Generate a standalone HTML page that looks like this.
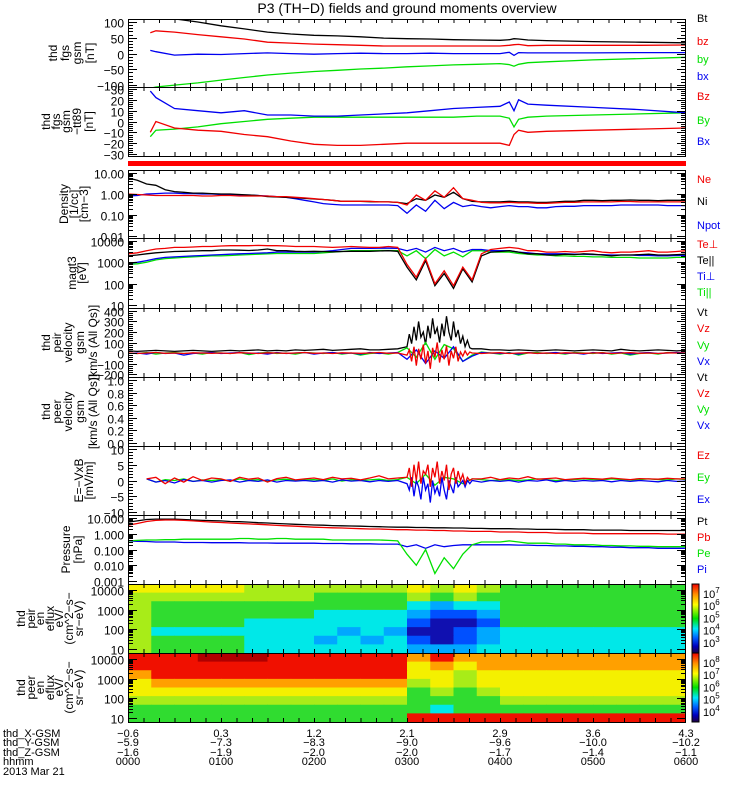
<!DOCTYPE html>
<html><head><meta charset="utf-8"><style>
html,body{margin:0;padding:0;background:#fff;}
svg{display:block;font-family:"Liberation Sans",sans-serif;}
</style></head><body>
<svg id="chart" width="750" height="800" viewBox="0 0 750 800" xmlns="http://www.w3.org/2000/svg">
<rect width="750" height="800" fill="#fff"/>
<text x="407" y="13" font-size="14" text-anchor="middle">P3 (TH−D) fields and ground moments overview</text>
<g id="g"></g>
</svg>
<script>
const N=null;
const tB=[0.24,0.3,0.5,0.75,1,1.25,1.5,1.75,2,2.25,2.5,2.75,3,3.25,3.5,3.75,4,4.1,4.15,4.2,4.3,4.5,5,5.5,6];
const Bt=[118,116,110,100,88,78,68,62,58,56,53,49,47,46,44,43,42,44,47,46,43,41,38,36,34];
const bz=[66,72,68,60,53,46,36,33,30,28,26,24,24,24,24,24,24,26,28,29,25,26,26,26,27];
const by=[-110,-106,-100,-93,-84,-76,-68,-62,-57,-53,-49,-46,-42,-39,-36,-34,-32,-35,-40,-34,-29,-26,-20,-16,-12];
const bx=[10,6,-5,-2,-3,0,2,0,-2,0,1,0,0,1,0,0,0,4,-6,3,2,2,2,3,3];
const BzT=[-10,0,-6,-8,-9,-12,-14,-18,-21,-22,-22,-21,-20,-20,-20,-20,-20,-22,-12,-8,-10,-9,-8,-7,-6];
const ByT=[-14,-8,-7,-5,-2,0,2,3,4,4,4,4,4,4,4,5,5,3,-5,2,4,5,6,7,8];
const BxT=[28,22,12,10,8,10,6,6,5,5,6,7,8,10,12,13,14,18,10,20,16,15,13,11,8];

const tD=[0,0.1,0.2,0.3,0.4,0.5,0.6,0.7,0.8,0.9,1,1.1,1.2,1.3,1.4,1.5,1.6,1.7,1.8,1.9,2,2.1,2.2,2.3,2.4,2.5,2.6,2.7,2.8,2.9,3,3.1,3.2,3.3,3.4,3.5,3.6,3.7,3.8,3.9,4,4.1,4.2,4.3,4.4,4.5,4.6,4.7,4.8,4.9,5,5.1,5.2,5.3,5.4,5.5,5.6,5.7,5.8,5.9,6];
const Ni=[5.8,4.5,3.0,2.6,1.6,1.3,1.2,1.1,1.1,1.05, 1.0,1.0,0.95,0.9,0.85,0.75,0.72,0.7,0.65,0.62, 0.58,0.55,0.5,0.45,0.45,0.45,0.43,0.42,0.42,0.4, 0.35,0.6,0.5,0.9,0.7,1.2,0.6,0.45,0.42,0.42, 0.42,0.45,0.42,0.42,0.4,0.4,0.42,0.45,0.45,0.5, 0.5,0.48,0.5,0.5,0.52,0.5,0.5,0.48,0.5,0.5,0.5];
const Ne=[1.0,0.95,0.9,0.85,0.85,0.85,0.85,0.85,0.8,0.8, 0.85,0.85,0.8,0.8,0.8,0.8,0.75,0.75,0.7,0.65, 0.6,0.55,0.5,0.45,0.45,0.45,0.45,0.42,0.42,0.4, 0.3,0.9,0.5,1.4,0.7,2.0,0.6,0.5,0.4,0.38, 0.38,0.4,0.38,0.38,0.36,0.36,0.38,0.4,0.4,0.42, 0.42,0.42,0.42,0.44,0.44,0.42,0.42,0.42,0.42,0.42,0.42];
const Npot=[0.8,0.85,1.0,1.05,1.1,1.1,1.05,1.05,1.0,1.0, 0.95,0.95,0.9,0.9,0.85,0.8,0.75,0.7,0.6,0.5, 0.42,0.35,0.32,0.3,0.3,0.3,0.3,0.3,0.3,0.28, 0.12,0.3,0.15,0.5,0.2,0.4,0.25,0.3,0.25,0.22, 0.25,0.28,0.25,0.25,0.22,0.22,0.25,0.26,0.26,0.28, 0.28,0.28,0.28,0.3,0.3,0.3,0.3,0.3,0.28,0.28,0.28];
const TeP=[2500,2800,3500,4200,4500,5000,5000,5200,5500,5500, 5800,6000,6000,6000,6200,6000,6000,5800,5500,5500, 5500,5200,5000,5200,5500,5200,5000,5000,5500,5000, 800,200,1500,100,400,80,600,150,2500,4000, 4500,5000,4500,3500,3500,3000,3000,3200,3000,3200, 3500,3000,2800,3000,3000,3200,3500,3000,3000,3200,3500];
const TePar=[2000,2200,2500,2800,3000,3200,3300,3400,3500,3500, 3800,3800,3700,3600,3800,4200,3500,3500,3300,3200, 3300,3200,3100,3200,3300,3300,3300,3400,3500,3300, 600,150,1200,80,300,60,500,120,2000,3000, 3200,3500,3000,2500,2500,2200,2200,2400,2300,2500, 2400,2200,2000,2200,2200,2300,2400,2200,2200,2300,2400];
const TiP=[900,1000,1200,1500,1700,1800,1900,2000,2100,2200, 2300,2400,2500,2600,2700,2800,3000,3000,3000,3000, 3000,3200,3500,4000,4500,4500,4500,4600,4600,4500, 3500,4500,3000,5000,3500,4500,3000,4000,4000,3500, 3500,3500,3000,2800,2500,2500,2500,2500,2400,2400, 2300,2300,2200,2200,2200,2100,2100,2000,2000,2100,2100];
const TiPar=[800,850,1000,1300,1500,1600,1700,1800,1900,2000, 2000,2100,2200,2300,2400,2500,2600,2600,2600,2600, 2600,2800,3000,3200,3500,3500,3500,3600,3600,3500, 2000,3500,1500,4000,2000,3000,1800,3500,3500,3000, 3000,3000,2600,2400,2200,2200,2000,2000,1900,1900, 1800,1800,1700,1700,1700,1600,1600,1600,1600,1700,1700];
const Vt=[20,15,20,25,20,15,20,25,20,15, 20,25,20,25,30,20,25,20,30,25, 30,35,25,30,35,40,30,30,35,40, N,N,N,N,N,N,N,N,40,30, 30,25,30,25,20,25,30,25,20,25, 30,25,20,35,25,20,25,30,25,20,25];
const Vz=[0,-5,0,5,-3,0,-5,2,0,-3, 0,-5,3,0,-5,2,0,-3,0,5, -3,0,-5,2,0,-3,0,5,-3,0, N,N,N,N,N,N,N,N,-5,0, 3,-5,0,2,-3,0,-5,2,0,-3, 0,2,-5,0,3,-3,0,-5,2,0,0];
const Vy=[0,-5,5,-10,0,5,-5,0,-10,5, 0,-5,5,-15,0,5,-5,0,-10,5, 0,-5,5,-10,0,-20,-5,0,-10,5, 50,-40,100,-60,80,40,-80,-20,10,0, -10,5,-20,0,5,-5,0,-10,5,0, -5,5,-10,0,-20,-5,0,-10,5,0,0];
const Vx=[-5,0,-10,5,-5,0,-20,-5,0,5, -5,0,5,-5,0,-10,5,-5,0,5, -10,0,5,-5,0,-10,5,-5,0,5, -60,30,-100,20,-50,60,-80,-30,5,0, -5,0,-10,5,-5,0,5,-5,0,-10, 5,-5,0,5,-10,0,5,-5,0,5,0];
const Ez=[N,N,0.5,1,-1,0.8,-0.5,1.2,0,0.8, 0.5,-0.3,1,0.4,0.8,-0.5,0.6,1,0.2,0.5, 0.8,0.3,1,0.5,0.7,0.2,0.8,1.5,0.5,0.8, N,N,N,N,N,N,N,N,0.5,1, 0.3,0.8,0.5,1.2,0.4,0.6,0.8,0.3,0.5,0.7, 0.6,0.4,0.8,0.5,0.3,0.6,0.5,0.4,0.7,0.5,0.5];
const Ey=[N,N,0.5,-0.5,0.3,0,0.5,-0.3,0.2,0, 0.3,-0.2,0.5,0,0.3,-0.3,0.2,0.4,0,0.2, 0.3,0,0.5,-0.2,0.3,0,0.2,0.4,0,0.3, 1,-1,2,-1.5,1,0.5,-1,0.5,0.3,0, 0.2,0.3,0,0.2,0.5,0.3,0,0.2,0.3,0.5, 0.3,0.2,0.5,0.3,0.2,0.3,0.5,0.3,0.2,0.5,0.3];
const Ex=[N,N,0.5,-0.5,0,-0.8,0.3,-0.3,0,-0.5, 0,0.2,-0.5,0,-0.3,0.2,-0.5,0,-0.2,0, -0.3,0,-0.5,0.2,-0.2,0,-0.4,0,-0.3,0, N,N,N,N,N,N,N,N,-0.5,0, -0.3,0,-0.5,0,-0.2,0.2,-0.4,0,-0.3,0, -0.2,0,-0.4,0,-0.3,0,-0.2,-0.4,0,-0.3,-0.2];
const tBurst=[3,3.025,3.05,3.075,3.1,3.125,3.15,3.175,3.2,3.225,3.25,3.275,3.3,3.325,3.35,3.375,3.4,3.425,3.45,3.475,3.5,3.525,3.55,3.575,3.6,3.625,3.65,3.675,3.7];
const VtBurst=[60,180,90,250,120,300,150,200,80,260, 140,330,180,240,100,280,160,350,200,120, 300,150,220,90,160,60,120,50,40];
const VzBurst=[-20,30,-80,60,-120,40,-60,80,-100,20, -150,50,-40,100,-90,30,-60,70,-120,20, -50,60,-80,10,-30,20,-20,10,0];
const EzBurst=[1,4,-2,5,0,6,-1,3,2,5, -2,4,1,6,-1,3,0,5,-3,2, 4,-1,3,0,2,-1,1,0,0.5];
const ExBurst=[-1,-3,1,-5,0,-2,-6,1,-3,-1, -7,0,-4,-2,-5,1,-3,-6,0,-2, -4,1,-2,-1,0,-2,0,-1,0];
const Pt=[5.5,6.5,8,8.5,8.5,8.5,8,7.5,7,6.8, 6.5,6,5.8,5.5,5,4.8,4.5,4.2,4,3.8, 3.6,3.5,3.3,3.2,3.1,3,2.9,2.8,2.7,2.6, 2.6,2.5,2.5,2.4,2.4,2.3,2.3,2.2,2.2,2.1, 2.1,2.1,2.0,2.0,1.9,1.9,1.9,1.8,1.8,1.8, 1.7,1.7,1.7,1.7,1.6,1.6,1.6,1.6,1.6,1.6,1.6];
const Pb=[3.5,4.5,6,7,7.5,7.5,7,6.5,6,5.5, 5.2,4.8,4.5,4.2,4,3.7,3.4,3.2,3,2.8, 2.6,2.5,2.4,2.3,2.2,2.1,2.0,2.0,1.9,1.8, 1.8,1.7,1.7,1.6,1.6,1.5,1.5,1.4,1.4,1.4, 1.3,1.3,1.3,1.2,1.2,1.2,1.1,1.1,1.1,1.1, 1.0,1.0,1.0,1.0,1.0,1.0,1.0,1.0,0.95,0.95,0.95];
const Pe=[0.35,0.38,0.4,0.4,0.42,0.42,0.45,0.45,0.45,0.45, 0.45,0.45,0.5,0.5,0.45,0.45,0.5,0.5,0.45,0.45, 0.45,0.45,0.4,0.4,0.4,0.4,0.4,0.4,0.38,0.35, 0.05,0.01,0.1,0.003,0.03,0.006,0.05,0.2,0.3,0.3, 0.3,0.35,0.3,0.25,0.25,0.25,0.22,0.22,0.2,0.2, 0.2,0.18,0.18,0.17,0.17,0.16,0.16,0.15,0.15,0.15,0.15];
const Pi=[0.35,0.33,0.32,0.3,0.3,0.3,0.28,0.28,0.28,0.27, 0.27,0.27,0.27,0.26,0.26,0.26,0.25,0.25,0.25,0.25, 0.25,0.24,0.24,0.24,0.23,0.23,0.23,0.22,0.22,0.22, 0.15,0.2,0.12,0.2,0.15,0.18,0.2,0.2,0.2,0.2, 0.2,0.2,0.19,0.19,0.18,0.18,0.17,0.17,0.16,0.16, 0.15,0.15,0.14,0.14,0.13,0.13,0.13,0.12,0.12,0.12,0.12];
const ionSpec=[
[7,7,7,7,7,6,6,6,6,6,6,6,7,6,7,6,5,5,5,5,5,5,5,5],
[6,6,6,6,6,6,6,6,5,5,5,5,6,5,6,5,5,5,5,5,5,5,5,5],
[6,5,5,5,5,5,5,5,5,5,5,5,4,3,4,4,5,5,5,5,5,5,5,5],
[6,5,5,5,5,5,5,5,4,4,4,4,3,2,2,3,5,5,5,5,5,5,5,5],
[6,5,5,5,5,4,4,4,4,4,4,4,2,1,1,2,5,5,5,5,5,5,5,5],
[6,4,4,4,4,4,4,4,4,3,4,3,1,1,2,3,4,4,4,4,4,4,4,4],
[6,5,5,5,5,4,4,4,3,4,3,4,2,1,2,3,4,4,4,4,4,4,4,4],
[6,5,5,5,5,4,4,4,4,4,4,4,3,3,3,4,4,4,4,4,4,4,4,4]];
const eleSpec=[
[9,9,9,10,10,10,9,9,9,9,9,9,8,9,8,8,8,8,8,8,8,8,8,8],
[9,9,9,9,9,9,9,9,9,9,9,9,7,8,7,8,8,8,8,8,8,8,8,8],
[8,9,9,9,9,9,9,9,9,9,9,9,7,7,6,7,7,7,7,7,7,7,7,7],
[7,8,8,8,8,8,8,8,8,8,8,8,6,7,6,7,7,7,7,7,7,7,7,7],
[7,7,7,7,7,7,7,7,7,7,7,7,5,6,5,6,7,7,7,7,7,7,7,7],
[6,6,6,6,6,6,6,6,6,6,6,6,5,5,5,5,6,6,6,6,6,6,6,6],
[5,5,5,5,5,5,5,5,5,5,5,5,5,4,5,5,5,5,5,5,5,5,5,5],
[5,5,5,5,5,5,5,5,5,5,5,5,9,9,9,9,9,9,9,9,9,9,9,9]];
const xHours=[0,1,2,3,4,5,6];
const xGSM=["−0.6","0.3","1.2","2.1","2.9","3.6","4.3"];
const yGSM=["−5.9","−7.3","−8.3","−9.0","−9.6","−10.0","−10.2"];
const zGSM=["−1.6","−1.9","−2.0","−2.0","−1.7","−1.4","−1.1"];
const hhmm=["0000","0100","0200","0300","0400","0500","0600"];

const NS="http://www.w3.org/2000/svg";
const G=document.getElementById('g');
const X0=128,X1=686;
function xs(t){return X0+t*(X1-X0)/6;}
function el(tag,attrs,parent){const e=document.createElementNS(NS,tag);for(const k in attrs)e.setAttribute(k,attrs[k]);(parent||G).appendChild(e);return e;}
const panels=[
{id:'mag-gsm',top:19,bot:87,log:false,min:-106,max:109.5,ticks:[100,50,0,-50,-100],lab:['100','50','0','−50','−100'],title:['thd','fgs','gsm','[nT]'],tx:[57,69,81,94]},
{id:'mag-tt89',top:87,bot:156,log:false,min:-31.8,max:31.8,ticks:[30,20,10,0,-10,-20,-30],lab:['30','20','10','0','−10','−20','−30'],title:['thd','fgs','gsm','−tt89','[nT]'],tx:[50,60,70,81,93]},
{id:'density',top:170,bot:238,log:true,min:-2.095,max:1.143,ticks:[10,1,0.1,0.01],lab:['10.00','1.00','0.10','0.01'],title:['Density','[1/cc]','[cm−3]'],tx:[68,78,88]},
{id:'temperature',top:238,bot:308,log:true,min:0.86,max:4.14,ticks:[10000,1000,100,10],lab:['10000','1000','100','10'],title:['magt3','[eV]'],tx:[76,86]},
{id:'ion-velocity',top:308,bot:377,log:false,min:-228,max:428,ticks:[400,300,200,100,0,-100,-200],lab:['400','300','200','100','0','−100','−200'],title:['thd','peir','velocity','gsm','[km/s (All Qs)]'],tx:[50,61,72,84,97]},
{id:'electron-velocity',top:377,bot:446,log:false,min:-0.048,max:1.048,ticks:[1,0.8,0.6,0.4,0.2,0],lab:['1.0','0.8','0.6','0.4','0.2','0.0'],title:['thd','peer','velocity','gsm','[km/s (All Qs)]'],tx:[50,61,72,84,97]},
{id:'efield',top:446,bot:515,log:false,min:-10.95,max:10.95,ticks:[10,5,0,-5,-10],lab:['10','5','0','−5','−10'],title:['E=−VxB','[mV/m]'],tx:[83,93]},
{id:'pressure',top:515,bot:584,log:true,min:-3.19,max:1.19,ticks:[10,1,0.1,0.01,0.001],lab:['10.000','1.000','0.100','0.010','0.001'],title:['Pressure','[nPa]'],tx:[70,82]},
{id:'ion-spectrogram',top:584,bot:653,log:true,min:0.8,max:4.3,ticks:[10000,1000,100,10],lab:['10000','1000','100','10'],title:['thd','peir','en','eflux','eV/','(cm^2−s−','sr−eV)'],tx:[25,35,44,54,63,73,83]},
{id:'electron-spectrogram',top:653,bot:722,log:true,min:0.8,max:4.3,ticks:[10000,1000,100,10],lab:['10000','1000','100','10'],title:['thd','peer','en','eflux','eV/','(cm^2−s−','sr−eV)'],tx:[25,35,44,54,63,73,83]}
];
function ys(p,v){const u=p.log?Math.log10(v):v;return p.top+(p.max-u)/(p.max-p.min)*(p.bot-p.top);}
const defs=el('defs',{});
panels.forEach((p,i)=>{const c=el('clipPath',{id:'clip'+i},defs);el('rect',{x:X0,y:p.top,width:X1-X0,height:p.bot-p.top},c);});

const cmap=['#200040','#1010b0','#0050ff','#00a8ff','#00e8e8','#30dc30','#a8ec18','#f4f000','#ffa000','#f01000','#b00000'];
function heat(pi,grid,name){
  const p=panels[pi];const g=el('g',{'clip-path':'url(#clip'+pi+')'});
  
  
  const nr=grid.length,rh=(p.bot-p.top)/nr;
  grid.forEach((row,r)=>row.forEach((v,c)=>{
    const cell=el('rect',{x:xs(c*0.25),y:p.top+r*rh,width:xs(0.25)-X0+0.5,height:rh+0.5,fill:cmap[v]},g);
    
    
  }));
}
heat(8,ionSpec,'ion-energy-flux');
heat(9,eleSpec,'electron-energy-flux');

function series(pi,ts,vs,color,name,tb,vb){
  const p=panels[pi];let pts=[];
  ts.forEach((t,k)=>{if(vs[k]!==null&&vs[k]!==undefined)pts.push([t,vs[k]]);});
  if(tb){tb.forEach((t,k)=>pts.push([t,vb[k]]));pts.sort((a,b)=>a[0]-b[0]);}
  const d=pts.map(q=>xs(q[0]).toFixed(1)+','+ys(p,q[1]).toFixed(1)).join(' ');
  const pl=el('polyline',{points:d,fill:'none',stroke:color,'stroke-width':1.3,'clip-path':'url(#clip'+pi+')'});
  
  
}
const K='#000',R='#f00000',Gr='#00e000',B='#0000f0';
series(0,tB,by,Gr,'by-line');series(0,tB,bx,B,'bx-line');series(0,tB,bz,R,'bz-line');series(0,tB,Bt,K,'bt-line');
series(1,tB,ByT,Gr,'by-tt89-line');series(1,tB,BxT,B,'bx-tt89-line');series(1,tB,BzT,R,'bz-tt89-line');
series(2,tD,Npot,B,'npot-line');series(2,tD,Ni,K,'ni-line');series(2,tD,Ne,R,'ne-line');
series(3,tD,TiPar,Gr,'ti-par-line');series(3,tD,TiP,B,'ti-perp-line');series(3,tD,TePar,K,'te-par-line');series(3,tD,TeP,R,'te-perp-line');
series(4,tD,Vt,K,'vt-line',tBurst,VtBurst);series(4,tD,Vy,Gr,'vy-line');series(4,tD,Vx,B,'vx-line');series(4,tD,Vz,R,'vz-line',tBurst,VzBurst);
series(6,tD,Ey,Gr,'ey-line');series(6,tD,Ex,B,'ex-line',tBurst,ExBurst);series(6,tD,Ez,R,'ez-line',tBurst,EzBurst);
series(7,tD,Pt,K,'pt-line');series(7,tD,Pb,R,'pb-line');series(7,tD,Pi,B,'pi-line');series(7,tD,Pe,Gr,'pe-line');

const rb=el('rect',{x:X0,y:161,width:X1-X0,height:5,fill:'#f00'});



panels.forEach((p,i)=>{
  const ax=el('g',{stroke:'#000','stroke-width':1,fill:'none'});
  
  
  el('rect',{x:X0+0.5,y:p.top+0.5,width:X1-X0-1,height:p.bot-p.top},ax);
  for(let m=1;m<36;m++){const x=xs(m/6)+0.5;el('line',{x1:x,y1:p.top,x2:x,y2:p.top+4},ax);el('line',{x1:x,y1:p.bot,x2:x,y2:p.bot-4},ax);}
  p.ticks.forEach((v,k)=>{
    const y=Math.round(ys(p,v))+0.5;
    el('line',{x1:X0,y1:y,x2:X0+9,y2:y},ax);el('line',{x1:X1,y1:y,x2:X1-9,y2:y},ax);
    const t=el('text',{x:124,y:y+5,'font-size':12,'text-anchor':'end',fill:'#000',stroke:'none'});
    t.textContent=p.lab[k];
    
    
    if(p.log&&k<p.ticks.length-1){for(let m=2;m<10;m++){const yy=Math.round(ys(p,v/10*m))+0.5;el('line',{x1:X0,y1:yy,x2:X0+5,y2:yy},ax);el('line',{x1:X1,y1:yy,x2:X1-5,y2:yy},ax);}}
    if(!p.log&&k<p.ticks.length-1){const v2=p.ticks[k+1];for(let m=1;m<5;m++){const yy=Math.round(ys(p,v+(v2-v)*m/5))+0.5;el('line',{x1:X0,y1:yy,x2:X0+5,y2:yy},ax);el('line',{x1:X1,y1:yy,x2:X1-5,y2:yy},ax);}}
  });
  const cy=(p.top+p.bot)/2;
  p.title.forEach((s,k)=>{
    const t=el('text',{x:p.tx[k],y:cy,'font-size':12,'text-anchor':'middle',transform:'rotate(-90 '+p.tx[k]+' '+cy+')',fill:'#000'});
    t.textContent=s;
    
    
  });
});

const legends=[
[['Bt',K,22],['bz',R,45],['by',Gr,63],['bx',B,80]],
[['Bz',R,100],['By',Gr,124],['Bx',B,145]],
[['Ne',R,183],['Ni',K,205],['Npot',B,229]],
[['Te⊥',R,248],['Te||',K,264],['Ti⊥',B,280],['Ti||',Gr,296]],
[['Vt',K,316],['Vz',R,332],['Vy',Gr,349],['Vx',B,365]],
[['Vt',K,381],['Vz',R,397],['Vy',Gr,413],['Vx',B,429]],
[['Ez',R,459],['Ey',Gr,481],['Ex',B,503]],
[['Pt',K,525],['Pb',R,541],['Pe',Gr,557],['Pi',B,573]]];
legends.forEach((arr,i)=>arr.forEach(l=>{
  const t=el('text',{x:697,y:l[2],'font-size':11,fill:l[1]});
  t.textContent=l[0];
  
  
}));

const lg=el('linearGradient',{id:'cb',x1:0,y1:1,x2:0,y2:0},defs);
[['0','#200040'],['0.1','#0000c0'],['0.22','#0060ff'],['0.35','#00e8ff'],['0.5','#00e000'],['0.7','#ffff00'],['0.85','#ff9000'],['1','#f00000']].forEach(s=>el('stop',{offset:s[0],'stop-color':s[1]},lg));
[[584,653,[7,6,5,4,3],'ion-colorbar'],[653,722,[8,7,6,5,4],'electron-colorbar']].forEach(c=>{
  const r=el('rect',{x:692,y:c[0],width:7,height:c[1]-c[0],fill:'url(#cb)',stroke:'#000','stroke-width':1});
  
  
  const n=c[2].length,step=(c[1]-c[0]-8)/n;
  c[2].forEach((e,k)=>{
    const y=c[0]+10+k*step+4;
    const t=el('text',{x:703,y:y,'font-size':11,fill:'#000'});
    t.textContent='10';
    const s=el('tspan',{dy:-5,'font-size':8},t);s.textContent=e;
    
    
  });
});

[['thd_X-GSM',737],['thd_Y-GSM',746],['thd_Z-GSM',756],['hhmm',765],['2013 Mar 21',775]].forEach(r=>{
  const t=el('text',{x:3,y:r[1],'font-size':11,fill:'#000'});
  t.textContent=r[0];
  
  
});
xHours.forEach((h,k)=>{
  [[xGSM,737],[yGSM,746],[zGSM,756],[hhmm,765]].forEach(r=>{
    const t=el('text',{x:xs(h),y:r[1],'font-size':11,'text-anchor':'middle',fill:'#000'});
    t.textContent=r[0][k];
    
    
  });
});
</script>
</body></html>
